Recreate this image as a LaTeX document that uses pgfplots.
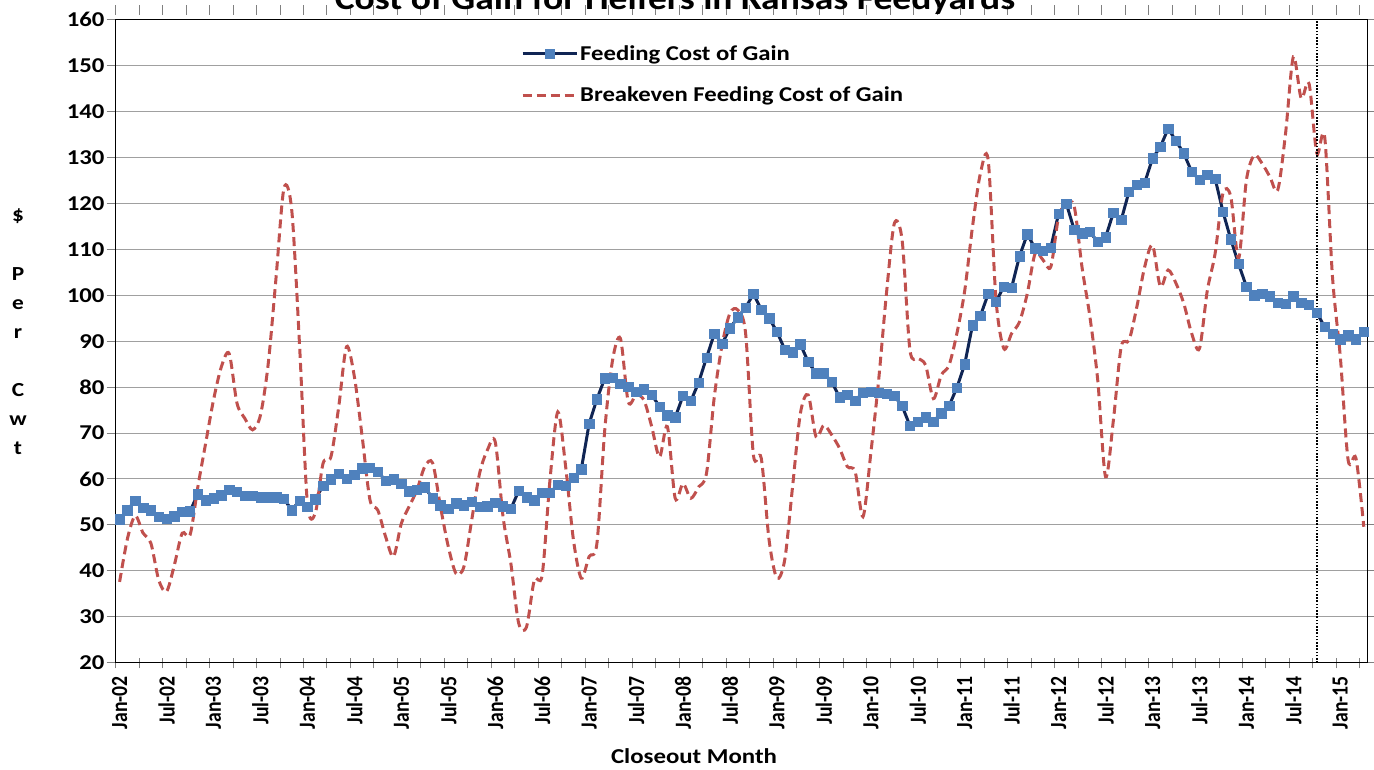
\documentclass[border=0pt]{standalone}
\usepackage{fontspec}
\setmainfont{Carlito}[FakeStretch=1.17]
\newfontfamily\plainfont{Carlito}
\usepackage{graphicx}
\usepackage{pgfplots}
\usepackage{pgfplotstable}
\pgfplotsset{compat=1.18}

\definecolor{navyline}{RGB}{16,37,84}
\definecolor{markblue}{RGB}{79,129,189}
\definecolor{bered}{RGB}{192,80,77}
\definecolor{gridgray}{RGB}{160,160,160}

% rotated tick labels: widen the glyphs across the text, as in the reference
\newcommand\wl[1]{\scalebox{1}[1.17]{#1}}

% month index: 0 = Jan-02 ... 159 = Apr-15
\pgfplotstableread{
i cog
0 51.2
1 53.2
2 55.3
3 53.8
4 53.2
5 51.8
6 51.3
7 51.9
8 52.9
9 53.0
10 56.7
11 55.4
12 55.8
13 56.5
14 57.7
15 57.2
16 56.4
17 56.4
18 56.0
19 56.0
20 56.0
21 55.7
22 53.2
23 55.3
24 54.0
25 55.6
26 58.5
27 59.9
28 61.2
29 60.1
30 60.9
31 62.3
32 62.5
33 61.6
34 59.6
35 59.9
36 58.9
37 57.3
38 57.7
39 58.2
40 55.8
41 54.3
42 53.5
43 54.7
44 54.3
45 55.1
46 54.0
47 54.1
48 54.8
49 54.1
50 53.5
51 57.4
52 56.0
53 55.4
54 57.0
55 57.0
56 58.7
57 58.5
58 60.3
59 62.1
60 72.0
61 77.4
62 81.9
63 82.1
64 80.8
65 80.1
66 79.0
67 79.5
68 78.4
69 75.7
70 73.9
71 73.4
72 78.1
73 77.0
74 81.0
75 86.4
76 91.6
77 89.5
78 92.8
79 95.2
80 97.3
81 100.3
82 96.9
83 95.0
84 92.1
85 88.2
86 87.6
87 89.3
88 85.5
89 83.0
90 83.0
91 81.2
92 77.8
93 78.3
94 77.0
95 78.8
96 79.0
97 78.8
98 78.5
99 78.1
100 75.9
101 71.6
102 72.5
103 73.4
104 72.5
105 74.3
106 75.9
107 79.9
108 85.0
109 93.5
110 95.5
111 100.3
112 98.6
113 101.9
114 101.7
115 108.5
116 113.3
117 110.2
118 109.7
119 110.4
120 117.8
121 119.9
122 114.2
123 113.5
124 113.8
125 111.6
126 112.6
127 118.0
128 116.4
129 122.6
130 124.0
131 124.5
132 129.8
133 132.3
134 136.3
135 133.6
136 130.9
137 126.9
138 125.1
139 126.2
140 125.4
141 118.2
142 112.2
143 106.8
144 101.9
145 100.0
146 100.3
147 99.8
148 98.4
149 98.1
150 99.8
151 98.4
152 97.9
153 96.2
154 93.1
155 91.6
156 90.4
157 91.3
158 90.4
159 92.1
}\cogtable

\pgfplotstableread{
i be
0 37.6
1 47.0
2 52.0
3 48.2
4 46.0
5 38.0
6 35.5
7 41.3
8 48.2
9 47.8
10 58.3
11 67.8
12 77.2
13 84.4
14 87.3
15 76.5
16 73.2
17 70.7
18 73.9
19 85.2
20 104.0
21 123.3
22 118.5
23 89.0
24 54.7
25 52.5
26 63.4
27 64.8
28 75.7
29 88.8
30 82.3
31 69.2
32 55.4
33 53.2
34 47.4
35 43.1
36 50.3
37 54.0
38 57.6
39 62.7
40 63.5
41 54.0
42 45.3
43 39.4
44 40.9
45 51.1
46 61.2
47 66.3
48 68.1
49 51.8
50 41.6
51 28.6
52 27.8
53 38.0
54 39.1
55 59.8
56 74.6
57 62.7
58 46.7
59 38.4
60 43.1
61 46.0
62 70.7
63 85.9
64 90.6
65 76.8
66 78.3
67 77.2
68 71.4
69 64.8
70 71.4
71 55.8
72 59.0
73 55.8
74 58.3
75 61.2
76 77.9
77 89.2
78 96.1
79 96.8
80 91.7
81 65.2
82 64.5
83 46.7
84 38.4
85 42.4
86 58.3
87 74.3
88 78.3
89 69.2
90 71.7
91 69.6
92 66.7
93 62.7
94 61.6
95 51.8
96 65.6
97 81.5
98 100.4
99 115.6
100 112.0
101 88.1
102 86.3
103 84.8
104 77.5
105 82.6
106 84.8
107 91.7
108 101.0
109 115.0
110 126.5
111 129.4
112 99.0
113 88.4
114 91.7
115 94.2
116 100.4
117 109.1
118 107.7
119 106.2
120 117.1
121 120.0
122 119.3
123 106.0
124 95.3
125 81.5
126 60.5
127 72.8
128 88.8
129 90.2
130 97.5
131 106.2
132 110.9
133 101.9
134 105.5
135 102.6
136 98.2
137 91.7
138 88.4
139 101.0
140 109.1
141 122.2
142 121.5
143 108.0
144 125.1
145 130.5
146 128.7
147 125.8
148 122.9
149 135.2
150 151.9
151 142.9
152 146.1
153 130.9
154 134.5
155 104.0
156 86.6
157 64.1
158 64.5
159 49.6
}\betable

\begin{document}
\begin{tikzpicture}
\begin{axis}[
    scale only axis,
    width=1252bp, height=643bp,
    xmin=-0.5, xmax=159.5,
    ymin=20, ymax=160,
    clip=false,
    axis line style={black, line width=1.2bp},
    ytick={20,30,...,160},
    ymajorgrids,
    grid style={gridgray, line width=1bp},
    xtick={0,6,...,156},
    xticklabels={\wl{Jan-02},\wl{Jul-02},\wl{Jan-03},\wl{Jul-03},\wl{Jan-04},\wl{Jul-04},\wl{Jan-05},\wl{Jul-05},\wl{Jan-06},\wl{Jul-06},\wl{Jan-07},\wl{Jul-07},\wl{Jan-08},\wl{Jul-08},\wl{Jan-09},\wl{Jul-09},\wl{Jan-10},\wl{Jul-10},\wl{Jan-11},\wl{Jul-11},\wl{Jan-12},\wl{Jul-12},\wl{Jan-13},\wl{Jul-13},\wl{Jan-14},\wl{Jul-14},\wl{Jan-15}},
    minor xtick={-0.5,2.5,...,158.5},
    major x tick style={draw=none},
    minor x tick style={gray, line width=1bp, yshift=4.3bp},
    major y tick style={gray, line width=1bp},
    tick align=outside,
    major tick length=9bp,
    minor tick length=10bp,
    xticklabel shift=1bp,
    /pgf/number format/assume math mode=true,
    yticklabel style={font=\bfseries\fontsize{21.2}{24}\selectfont, inner sep=2bp},
    xticklabel style={rotate=90, anchor=east, font=\plainfont\bfseries\fontsize{19.8}{22}\selectfont},
    legend style={at={(0.3213,0.966)}, anchor=north west, draw=none, fill=none,
        font=\bfseries\fontsize{21.2}{24}\selectfont, row sep=21bp,
        /tikz/every even column/.append style={column sep=3bp}},
    legend cell align=left,
    legend image code/.code={\draw[mark repeat=2, mark phase=2, #1] plot coordinates {(0bp,0bp) (27bp,0bp) (54bp,0bp)};},
]
\addplot[navyline, line width=3bp, mark=square*, mark size=4.7bp,
    mark options={solid, fill=markblue, draw=markblue, line width=0.5bp}]
    table[x=i, y=cog] {\cogtable};
\addlegendentry{Feeding Cost of Gain}
\addplot[bered, line width=3bp, smooth, tension=0.5, dash pattern=on 9bp off 5bp]
    table[x=i, y=be] {\betable};
\addlegendentry{Breakeven Feeding Cost of Gain}
\addplot[black, line width=1.6bp, dash pattern=on 1.6bp off 1.6bp, forget plot]
    coordinates {(153,20) (153,160)};

\node[anchor=base, font=\bfseries\fontsize{32.2}{36}\selectfont]
    at (rel axis cs:0.4467,1) [yshift=10.5bp] {Cost of Gain for Heifers in Kansas Feedyards};
\node[font=\bfseries\fontsize{21.3}{24}\selectfont]
    at (rel axis cs:0.4619,0) [yshift=-93bp] {Closeout Month};
\node[align=center, font=\bfseries\fontsize{20}{29.25}\selectfont]
    at (rel axis cs:-0.078,0.5143) {\$\\\mbox{}\\P\\e\\r\\\mbox{}\\C\\w\\t};
\end{axis}
\pgfresetboundingbox
\path (-115.7bp,-107.3bp) rectangle (1258.3bp,662.7bp);
\end{tikzpicture}
\end{document}
